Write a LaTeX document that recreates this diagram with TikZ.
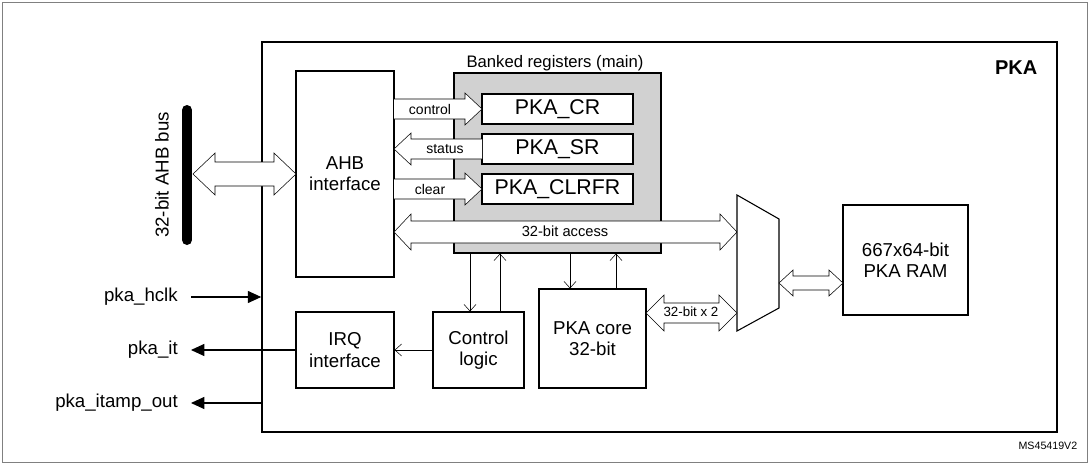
\documentclass[tikz,border=0pt]{standalone}
\usepackage{fontspec}
\setmainfont{Liberation Sans}
\usetikzlibrary{arrows.meta}
\newcommand{\hArrR}[6]{% x1 x2 y shaft head len : right-pointing
 \filldraw[fill=white,draw=black,thin] (#1,#3-#4)--(#2-#6,#3-#4)--(#2-#6,#3-#5)--(#2,#3)--(#2-#6,#3+#5)--(#2-#6,#3+#4)--(#1,#3+#4);}
\newcommand{\hArrL}[6]{%
 \filldraw[fill=white,draw=black,thin] (#2,#3-#4)--(#1+#6,#3-#4)--(#1+#6,#3-#5)--(#1,#3)--(#1+#6,#3+#5)--(#1+#6,#3+#4)--(#2,#3+#4);}
\newcommand{\hArrD}[6]{%
 \filldraw[fill=white,draw=black,thin] (#1+#6,#3-#4)--(#2-#6,#3-#4)--(#2-#6,#3-#5)--(#2,#3)--(#2-#6,#3+#5)--(#2-#6,#3+#4)--(#1+#6,#3+#4)--(#1+#6,#3+#5)--(#1,#3)--(#1+#6,#3-#5)--cycle;}
\begin{document}
\begin{tikzpicture}[x=0.75pt,y=-0.75pt,
  box/.style={draw,thick,fill=white,align=center,inner sep=0pt,font=\fontsize{14}{16}\selectfont},
  reg/.style={draw,thick,fill=white,minimum width=113.25pt,minimum height=22.5pt,inner sep=0pt,font=\fontsize{16}{18}\selectfont},
  lbl/.style={font=\fontsize{10.5}{12}\selectfont,inner sep=1pt},
  sig/.style={font=\fontsize{14}{16}\selectfont,anchor=east,inner sep=0pt},
  line/.style={-{Straight Barb[length=5pt,width=9pt]},thin},
  sarr/.style={-{Triangle[length=10pt,width=9pt]},thick}]
\useasboundingbox (0,0) rectangle (1089,464);
\draw[thin,gray] (2,2) rectangle (1087,462);
\node[draw,very thick,minimum width=596.25pt,minimum height=292.5pt,inner sep=0pt] (pka) at (659.5,237) {};
\node[font=\bfseries\fontsize{15}{17}\selectfont,anchor=north east] (pkat) at (1042,56) {PKA};
% bus
\draw[line width=7.5pt,line cap=round] (187,110) coordinate (busT) -- (187,240) coordinate (busB);
\node[rotate=90,font=\fontsize{14}{16}\selectfont] (busl) at (162,175) {32-bit AHB bus};
\node[box,minimum width=73.5pt,minimum height=154.5pt] (ahb) at (345,174) {AHB\\interface};
\hArrD{193}{296}{174}{12}{21}{22}
% banked
\node[font=\fontsize{12.5}{14}\selectfont] (bankl) at (555,63) {Banked registers (main)};
\node[draw,thick,fill=black!18,minimum width=155.25pt,minimum height=135pt,inner sep=0pt] (bank) at (557.5,163) {};
\node[reg] (cr) at (557.5,109) {PKA\_CR};
\node[reg] (sr) at (557.5,149) {PKA\_SR};
\node[reg] (clr) at (557.5,189) {PKA\_CLRFR};
\hArrR{394}{482}{109}{10}{16}{17}
\hArrL{394}{482}{149}{10}{16}{17}
\hArrR{394}{482}{189}{10}{16}{17}
\node[lbl] (lc) at (430,109) {control};
\node[lbl] (ls) at (445,149) {status};
\node[lbl] (lcl) at (430,189) {clear};
\hArrD{394}{737}{232}{11}{18}{17}
\node[lbl,font=\fontsize{11}{13}\selectfont] (la) at (565,231) {32-bit access};
% mux
\draw[thick,fill=white] (737,195) coordinate (muxTL) -- (779,219) -- (779,308) -- (737,331) coordinate (muxBL) -- cycle;
\node[box,minimum width=93.75pt,minimum height=82.5pt] (ram) at (905.5,260) {667x64-bit\\PKA RAM};
\hArrD{779}{843}{283}{7}{13}{14}
% lower blocks
\node[box,minimum width=68.25pt,minimum height=57pt] (ctl) at (478.5,350) {Control\\logic};
\node[box,minimum width=80.25pt,minimum height=74.25pt] (core) at (592.5,338.5) {PKA core\\32-bit};
\node[box,minimum width=73.5pt,minimum height=57pt] (irq) at (345,350) {IRQ\\interface};
\draw[line] (bank.south -| 470,0) -- (ctl.north -| 470,0);
\draw[line] (ctl.north -| 500,0) -- (bank.south -| 500,0);
\draw[line] (bank.south -| 570,0) -- (core.north -| 570,0);
\draw[line] (core.north -| 616,0) -- (bank.south -| 616,0);
\draw[line] (ctl.west) -- (irq.east);
\hArrD{646}{737}{313}{10}{18}{18}
\node[lbl,font=\fontsize{10}{12}\selectfont] (l2) at (691,312) {32-bit x 2};
% signals
\node[sig] (hclk) at (178,297) {pka\_hclk};
\node[sig] (it) at (178,350) {pka\_it};
\node[sig] (itamp) at (178,403) {pka\_itamp\_out};
\draw[sarr] (191,297) -- (pka.west |- 0,297);
\draw[sarr] (irq.west) -- (191,350);
\draw[sarr] (pka.west |- 0,403) -- (191,403);
\node[font=\fontsize{8}{9}\selectfont,anchor=east] (ms) at (1082,446) {MS45419V2};
\end{tikzpicture}
\end{document}
